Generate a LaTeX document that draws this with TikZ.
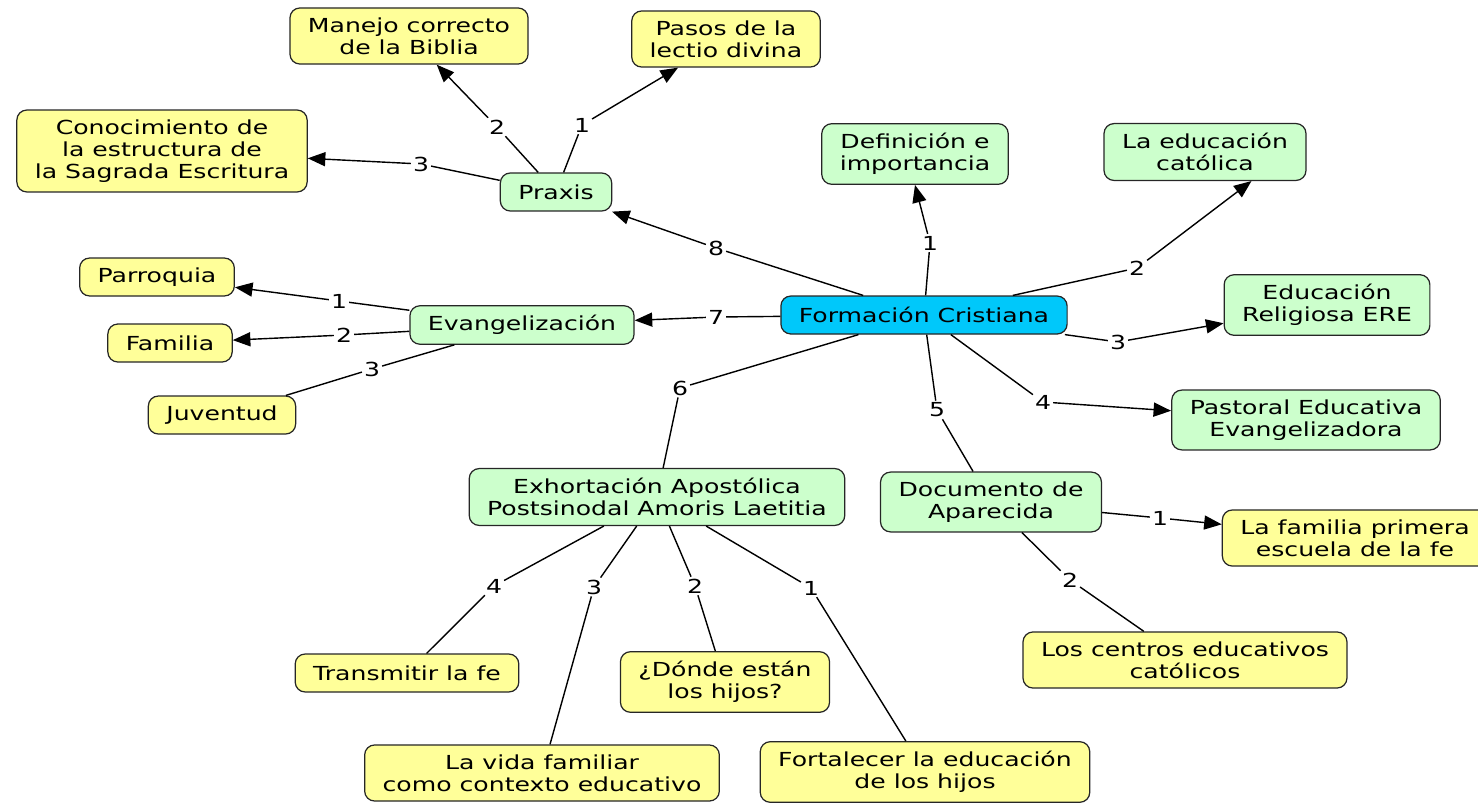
\documentclass[tikz,border=0pt]{standalone}
\usepackage{fontspec}
\setmainfont[FakeStretch=1.3]{DejaVu Sans}
\usetikzlibrary{arrows.meta}
\definecolor{cmyellow}{RGB}{255,255,153}
\definecolor{cmgreen}{RGB}{204,255,204}
\definecolor{cmblue}{RGB}{0,200,250}

\begin{document}
\begin{tikzpicture}[x=0.02cm,y=-0.02cm,
  font=\fontsize{11}{12.6}\selectfont,
  box/.style={draw=black!85, line width=0.7pt, rounded corners=0.2cm, align=center,
    inner xsep=0.36cm, inner ysep=0.19cm, minimum height=0.76cm},
  ybox/.style={box, fill=cmyellow},
  gbox/.style={box, fill=cmgreen},
  lbl/.style={inner sep=1pt},
  link/.style={line width=0.8pt},
  arr/.style={link, -{Triangle[length=10pt,width=8pt]}}]
\useasboundingbox (0,0) rectangle (1478,805);
% concepts
\node[box, fill=cmblue] (fc) at (924,315) {Formación Cristiana};
\node[gbox] (def) at (915,154) {Definición e\\importancia};
\node[gbox] (edc) at (1205,152) {La educación\\católica};
\node[gbox] (ere) at (1327,305) {Educación\\Religiosa ERE};
\node[gbox] (pee) at (1306,420) {Pastoral Educativa\\Evangelizadora};
\node[gbox] (doc) at (991,502) {Documento de\\Aparecida};
\node[gbox] (exh) at (657,497) {Exhortación Apostólica\\Postsinodal Amoris Laetitia};
\node[gbox] (eva) at (522,325) {Evangelización};
\node[gbox] (pra) at (556,192) {Praxis};
\node[ybox] (pas) at (726,39) {Pasos de la\\lectio divina};
\node[ybox] (man) at (409,36) {Manejo correcto\\de la Biblia};
\node[ybox] (con) at (162,151) {Conocimiento de\\la estructura de\\la Sagrada Escritura};
\node[ybox] (par) at (157,277) {Parroquia};
\node[ybox] (fam) at (170,343) {Familia};
\node[ybox] (juv) at (222,415) {Juventud};
\node[ybox] (tra) at (407,673) {Transmitir la fe};
\node[ybox] (vid) at (542,773) {La vida familiar\\como contexto educativo};
\node[ybox] (don) at (725,682) {¿Dónde están\\los hijos?};
\node[ybox] (for) at (925,772) {Fortalecer la educación\\de los hijos};
\node[ybox] (fpe) at (1355,538) {La familia primera\\escuela de la fe};
\node[ybox] (cen) at (1185,660) {Los centros educativos\\católicos};
% link labels
\node[lbl] (f1) at (930,243) {1};
\node[lbl] (f2) at (1137,268) {2};
\node[lbl] (f3) at (1118,342) {3};
\node[lbl] (f4) at (1043,402) {4};
\node[lbl] (f5) at (937,410) {5};
\node[lbl] (f6) at (680,388) {6};
\node[lbl] (f7) at (716,317) {7};
\node[lbl] (f8) at (716,248) {8};
\node[lbl] (p1) at (582,125) {1};
\node[lbl] (p2) at (497,127) {2};
\node[lbl] (p3) at (421,164) {3};
\node[lbl] (e1) at (339,301) {1};
\node[lbl] (e2) at (344,335) {2};
\node[lbl] (e3) at (372,369) {3};
\node[lbl] (x4) at (494,586) {4};
\node[lbl] (x3) at (594,587) {3};
\node[lbl] (x2) at (695,586) {2};
\node[lbl] (x1) at (811,588) {1};
\node[lbl] (d1) at (1160,518) {1};
\node[lbl] (d2) at (1070,580) {2};
% links
\draw[arr] (fc) -- (f1) -- (def.south);
\draw[arr] (fc) -- (f2) -- (edc.-32);
\draw[arr] (fc) -- (f3) -- (ere.190);
\draw[arr] (fc) -- (f4) -- (pee);
\draw[link] (fc) -- (f5) -- (doc);
\draw[link] (fc) -- (f6) -- (exh);
\draw[arr] (fc) -- (f7) -- (eva);
\draw[arr] (fc) -- (f8) -- (pra);
\draw[arr] (pra) -- (p1) -- (pas);
\draw[arr] (pra) -- (p2) -- (man);
\draw[arr] (pra) -- (p3) -- (con);
\draw[arr] (eva) -- (e1) -- (par);
\draw[arr] (eva) -- (e2) -- (fam);
\draw[link] (eva) -- (e3) -- (juv);
\draw[link] (exh) -- (x4) -- (tra);
\draw[link] (exh) -- (x3) -- (vid);
\draw[link] (exh) -- (x2) -- (don);
\draw[link] (exh) -- (x1) -- (for);
\draw[arr] (doc) -- (d1) -- (fpe);
\draw[link] (doc) -- (d2) -- (cen);
\end{tikzpicture}
\end{document}
